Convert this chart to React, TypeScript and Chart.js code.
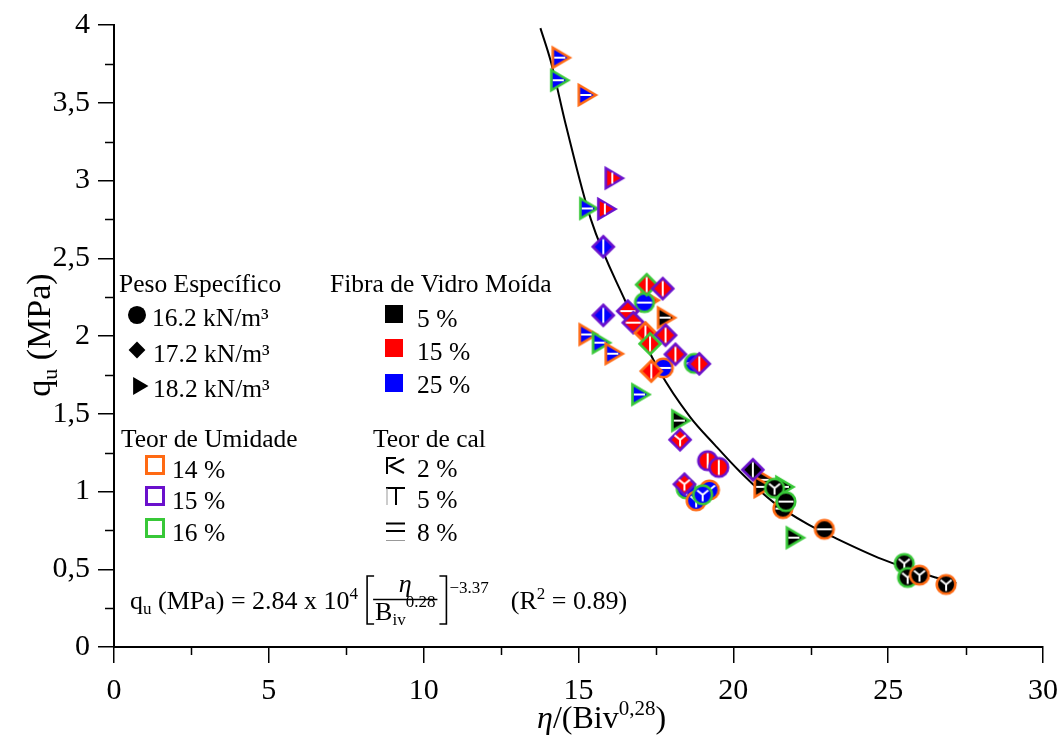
import React, { useEffect, useRef } from 'react';
import { Chart, registerables } from 'chart.js';
Chart.register(...registerables);

const FONT = '"Liberation Serif", "Times New Roman", serif';

// ---- axis ticks ----
const xMajorStep = 5;
const yMajorStep = 0.5;

// ---- data (η/Biv^0.28 , qu) with categories ----
const etaBiv = [
  14.38, 14.33, 15.22, 16.09, 15.27, 15.85, 15.25, 15.68, 16.09, 16.95, 17.78, 18.24, 21.94, 20.95, 20.9, 21.6, 17.25,
  17.13, 18.74, 17.74, 19.17, 19.53, 18.48, 18.8, 19.23, 19.01, 21.33, 21.6, 21.7, 22.94, 25.52, 25.63, 26.01, 26.87,
  15.8, 17.2, 17.72, 15.8, 16.59, 16.77, 17.16, 17.81, 17.31, 18.13, 18.9, 17.35, 18.28, 18.42, 20.63,
];
const qu = [
  3.79, 3.645, 3.55, 3.015, 2.82, 2.817, 2.01, 1.957, 1.886, 1.624, 2.118, 1.456, 0.703, 1.075, 1.03, 1.03, 2.23,
  2.215, 1.824, 1.795, 1.198, 1.155, 1.017, 0.94, 1.01, 0.979, 1.021, 0.89, 0.935, 0.757, 0.537, 0.447, 0.462, 0.402,
  2.574, 2.33, 2.305, 2.133, 2.16, 2.086, 2.02, 2.005, 1.95, 1.882, 1.821, 1.774, 1.333, 1.047, 1.14,
];
// Peso específico (kN/m³): 16.2 circle, 17.2 diamond, 18.2 triangle
const pesoEspecifico = [
  18.2, 18.2, 18.2, 18.2, 18.2, 18.2, 18.2, 18.2, 18.2, 18.2, 18.2, 18.2, 18.2, 18.2, 18.2, 18.2, 18.2,
  16.2, 16.2, 16.2, 16.2, 16.2, 16.2, 16.2, 16.2, 16.2, 16.2, 16.2, 16.2, 16.2, 16.2, 16.2, 16.2, 16.2,
  17.2, 17.2, 17.2, 17.2, 17.2, 17.2, 17.2, 17.2, 17.2, 17.2, 17.2, 17.2, 17.2, 17.2, 17.2,
];
// Fibra de vidro moída (%)
const fibraVidro = [
  25, 25, 25, 15, 25, 15, 25, 25, 25, 25, 5, 5, 5, 5, 5, 5, 15,
  25, 25, 25, 15, 15, 25, 25, 25, 25, 5, 5, 5, 5, 5, 5, 5, 5,
  25, 15, 15, 25, 15, 15, 15, 15, 15, 15, 15, 15, 15, 15, 5,
];
// Teor de umidade (%)
const teorUmidade = [
  14, 16, 14, 15, 16, 15, 14, 16, 14, 16, 14, 16, 16, 14, 14, 16, 14,
  16, 16, 14, 15, 15, 16, 14, 14, 16, 16, 14, 16, 14, 16, 16, 14, 14,
  15, 16, 15, 15, 15, 15, 14, 15, 16, 15, 15, 14, 15, 15, 15,
];
// Teor de cal (%)
const teorCal = [
  8, 8, 8, 5, 8, 5, 8, 8, 8, 8, 8, 8, 8, 8, 8, 8, 8,
  8, 8, 8, 5, 5, 2, 2, 2, 2, 2, 8, 8, 8, 2, 2, 2, 2,
  5, 5, 5, 5, 8, 8, 5, 5, 5, 5, 5, 5, 2, 2, 5,
];

// fitted curve
const curveX = [13.77, 14.1, 14.6, 15.4, 16.5, 17.6, 18.6, 19.4, 20.2, 21.3, 22.4, 23.2, 24.8, 26.4, 27.2];
const curveY = [3.98, 3.77, 3.35, 2.75, 2.23, 1.78, 1.48, 1.30, 1.13, 0.93, 0.79, 0.71, 0.565, 0.455, 0.41];

const fillColor: Record<number, string> = { 5: '#000000', 15: '#FF0000', 25: '#0000FF' };
const borderColor: Record<number, string> = { 14: '#FF6A13', 15: '#6A10CC', 16: '#38C838' };
const shapeOf: Record<number, string> = { 16.2: 'circle', 17.2: 'diamond', 18.2: 'triangle' };

function shapePath(g: CanvasRenderingContext2D, shape: string, s: number) {
  g.beginPath();
  if (shape === 'circle') g.arc(0, 0, 9.3 * s, 0, Math.PI * 2);
  else if (shape === 'diamond') {
    g.moveTo(0, -10.5 * s); g.lineTo(10.5 * s, 0); g.lineTo(0, 10.5 * s); g.lineTo(-10.5 * s, 0); g.closePath();
  } else {
    g.moveTo(10.5 * s, 0); g.lineTo(-6.5 * s, -10 * s); g.lineTo(-6.5 * s, 10 * s); g.closePath();
  }
}

function makeMarker(shape: string, fill: string, stroke: string, cal: number): HTMLCanvasElement {
  const S = 32;
  const c = document.createElement('canvas');
  c.width = S; c.height = S;
  const g = c.getContext('2d')!;
  g.translate(S / 2, S / 2);
  shapePath(g, shape, 1);
  g.fillStyle = fill; g.fill();
  g.lineWidth = 2.6; g.strokeStyle = stroke; g.lineJoin = 'miter'; g.stroke();
  g.strokeStyle = '#ffffff'; g.lineWidth = 2; g.lineCap = 'butt';
  g.beginPath();
  if (cal === 8) {
    const x0 = shape === 'triangle' ? -5 : -7.5;
    const x1 = shape === 'triangle' ? 6 : 7.5;
    g.moveTo(x0, 0); g.lineTo(x1, 0);
  } else if (cal === 5) {
    const h = shape === 'triangle' ? 5.5 : 7.5;
    g.moveTo(0, -h); g.lineTo(0, h);
  } else {
    g.moveTo(0, 0); g.lineTo(0, 6.5);
    g.moveTo(0, 0); g.lineTo(-5.5, -4.5);
    g.moveTo(0, 0); g.lineTo(5.5, -4.5);
  }
  g.stroke();
  return c;
}

function drawRuns(ctx: CanvasRenderingContext2D, x: number, y: number, runs: { t: string; size: number; dy?: number; italic?: boolean; dx?: number }[]) {
  let cx = x;
  for (const r of runs) {
    ctx.font = `${r.italic ? 'italic ' : ''}${r.size}px ${FONT}`;
    cx += r.dx || 0;
    ctx.fillText(r.t, cx, y + (r.dy || 0));
    cx += ctx.measureText(r.t).width;
  }
  return cx;
}

function runsWidth(ctx: CanvasRenderingContext2D, runs: { t: string; size: number; italic?: boolean }[]) {
  let w = 0;
  for (const r of runs) {
    ctx.font = `${r.italic ? 'italic ' : ''}${r.size}px ${FONT}`;
    w += ctx.measureText(r.t).width;
  }
  return w;
}

const overlayPlugin = {
  id: 'overlay',
  afterDraw(chart: any) {
    const ctx: CanvasRenderingContext2D = chart.ctx;
    const xs = chart.scales.x;
    const ys = chart.scales.y;
    const bottom = chart.chartArea.bottom;
    const left = chart.chartArea.left;
    ctx.save();
    // minor ticks
    ctx.strokeStyle = '#000';
    ctx.lineWidth = 1.5;
    ctx.beginPath();
    for (let v = xMajorStep / 2; v < 30; v += xMajorStep) {
      const px = Math.round(xs.getPixelForValue(v)) + 0.5;
      ctx.moveTo(px, bottom); ctx.lineTo(px, bottom + 8);
    }
    for (let v = yMajorStep / 2; v < 4; v += yMajorStep) {
      const py = Math.round(ys.getPixelForValue(v)) + 0.5;
      ctx.moveTo(left, py); ctx.lineTo(left - 9, py);
    }
    ctx.stroke();

    ctx.fillStyle = '#000';
    ctx.textBaseline = 'alphabetic';
    ctx.textAlign = 'left';

    // axis titles
    const yTitle = [{ t: 'q', size: 34 }, { t: 'u', size: 22, dy: 7 }, { t: ' (MPa)', size: 34 }];
    ctx.save();
    ctx.translate(50, 335);
    ctx.rotate(-Math.PI / 2);
    drawRuns(ctx, -runsWidth(ctx, yTitle) / 2, 0, yTitle);
    ctx.restore();

    const xTitle = [
      { t: 'η', size: 32, italic: true }, { t: '/(Biv', size: 32 }, { t: '0,28', size: 21, dy: -13 }, { t: ')', size: 32 },
    ];
    drawRuns(ctx, 537, 728, xTitle);

    // legend: peso específico
    const L = 25.5;
    ctx.font = `${L}px ${FONT}`;
    ctx.fillText('Peso Específico', 119, 292);
    ctx.fillText('16.2 kN/m³', 152, 326);
    ctx.fillText('17.2 kN/m³', 153, 362);
    ctx.fillText('18.2 kN/m³', 153, 397);
    ctx.fillStyle = '#000';
    ctx.save(); ctx.translate(137, 315); shapePath(ctx, 'circle', 0.97); ctx.fill(); ctx.restore();
    ctx.save(); ctx.translate(137, 350); shapePath(ctx, 'diamond', 0.8); ctx.fill(); ctx.restore();
    ctx.save(); ctx.translate(139, 386); shapePath(ctx, 'triangle', 0.9); ctx.fill(); ctx.restore();

    // legend: fibra
    ctx.font = `${L}px ${FONT}`;
    ctx.fillText('Fibra de Vidro Moída', 330, 292);
    ctx.fillText('5 %', 417, 327);
    ctx.fillText('15 %', 417, 360);
    ctx.fillText('25 %', 417, 393);
    ctx.fillStyle = '#000'; ctx.fillRect(385, 305, 18, 18);
    ctx.fillStyle = '#FF0000'; ctx.fillRect(385, 339, 18, 18);
    ctx.fillStyle = '#0000FF'; ctx.fillRect(385, 374, 18, 18);
    ctx.fillStyle = '#000';

    // legend: umidade
    ctx.fillText('Teor de Umidade', 121, 447);
    ctx.fillText('14 %', 172, 478);
    ctx.fillText('15 %', 172, 509);
    ctx.fillText('16 %', 172, 541);
    ctx.lineWidth = 3;
    ctx.strokeStyle = borderColor[14]; ctx.strokeRect(146.5, 456.5, 17, 17);
    ctx.strokeStyle = borderColor[15]; ctx.strokeRect(146.5, 487.5, 17, 17);
    ctx.strokeStyle = borderColor[16]; ctx.strokeRect(146.5, 519.5, 17, 17);

    // legend: cal
    ctx.fillStyle = '#000';
    ctx.fillText('Teor de cal', 373, 447);
    ctx.fillText('2 %', 417, 477);
    ctx.fillText('5 %', 417, 508);
    ctx.fillText('8 %', 417, 541);
    ctx.strokeStyle = '#000'; ctx.lineWidth = 2;
    ctx.beginPath();
    ctx.moveTo(387, 457); ctx.lineTo(387, 474);
    ctx.moveTo(386, 458); ctx.lineTo(396, 458);
    ctx.moveTo(404, 459); ctx.lineTo(390, 466); ctx.lineTo(404, 473);
    ctx.moveTo(386, 488); ctx.lineTo(405, 488);
    ctx.moveTo(396, 488); ctx.lineTo(396, 505);
    ctx.moveTo(386, 523.5); ctx.lineTo(405, 523.5);
    ctx.moveTo(386, 531); ctx.lineTo(405, 531);
    ctx.stroke();
    ctx.strokeStyle = '#999'; ctx.lineWidth = 1;
    ctx.beginPath();
    ctx.moveTo(387, 488); ctx.lineTo(387, 505);
    ctx.moveTo(386, 540.5); ctx.lineTo(405, 540.5);
    ctx.stroke();

    // equation
    ctx.fillStyle = '#000';
    const E = 26;
    const S = 17;
    let ex = drawRuns(ctx, 130, 609, [
      { t: 'q', size: E }, { t: 'u', size: S, dy: 5 }, { t: ' (MPa) = 2.84 x 10', size: E }, { t: '4', size: S, dy: -10 },
    ]);
    ex += 8;
    // left bracket
    ctx.strokeStyle = '#000'; ctx.lineWidth = 1.6;
    ctx.beginPath();
    ctx.moveTo(ex + 8, 576); ctx.lineTo(ex + 1, 576); ctx.lineTo(ex + 1, 624); ctx.lineTo(ex + 8, 624);
    ctx.stroke();
    const fx = ex + 7;
    // denominator
    const den = [{ t: 'B', size: E }, { t: 'iv', size: S }, { t: '0.28', size: S }];
    const fw = runsWidth(ctx, den) + 4;
    drawRuns(ctx, fx + 2, 620, [{ t: 'B', size: E }, { t: 'iv', size: S, dy: 5 }, { t: '0.28', size: S, dy: -13 }]);
    ctx.lineWidth = 1.3;
    ctx.beginPath(); ctx.moveTo(fx, 599.5); ctx.lineTo(fx + fw, 599.5); ctx.stroke();
    ctx.font = `italic ${E}px ${FONT}`;
    const wEta = ctx.measureText('η').width;
    ctx.fillText('η', fx + fw / 2 - wEta / 2, 592);
    const rb = fx + fw + 2;
    ctx.lineWidth = 1.6;
    ctx.beginPath();
    ctx.moveTo(rb, 576); ctx.lineTo(rb + 7, 576); ctx.lineTo(rb + 7, 624); ctx.lineTo(rb, 624);
    ctx.stroke();
    const after = drawRuns(ctx, rb + 10, 593, [{ t: '−3.37', size: S }]);
    drawRuns(ctx, after + 22, 609, [{ t: '(R', size: E }, { t: '2', size: S, dy: -10 }, { t: ' = 0.89)', size: E }]);

    ctx.restore();
  },
};

export default function App() {
  const ref = useRef<HTMLCanvasElement>(null);
  useEffect(() => {
    const canvas = ref.current!;
    const markers = etaBiv.map((_, i) =>
      makeMarker(shapeOf[pesoEspecifico[i]], fillColor[fibraVidro[i]], borderColor[teorUmidade[i]], teorCal[i]),
    );
    const isMajor = (v: number, step: number) => Math.abs(v / step - Math.round(v / step)) < 1e-6;
    const chart = new Chart(canvas, {
      type: 'scatter',
      data: {
        datasets: [
          {
            data: etaBiv.map((x, i) => ({ x, y: qu[i] })),
            pointStyle: markers as any,
            pointRadius: 10,
            pointHoverRadius: 10,
          },
          {
            data: curveX.map((x, i) => ({ x, y: curveY[i] })),
            showLine: true,
            borderColor: '#000',
            borderWidth: 2,
            pointRadius: 0,
            cubicInterpolationMode: 'monotone',
            fill: false,
          } as any,
        ],
      },
      options: {
        animation: false,
        responsive: false,
        devicePixelRatio: 1,
        events: [],
        layout: { padding: { left: 0, top: 25, right: 19, bottom: 0 } },
        plugins: { legend: { display: false }, tooltip: { enabled: false } },
        scales: {
          x: {
            type: 'linear',
            min: 0,
            max: 30,
            afterFit: (s: any) => { s.height = 98; s.paddingRight = 0; s.paddingLeft = 0; },
            ticks: {
              stepSize: xMajorStep / 2,
              autoSkip: false,
              maxRotation: 0,
              padding: 10,
              color: '#000',
              font: { family: FONT, size: 30 },
              callback: (v: any) => (isMajor(Number(v), xMajorStep) ? String(v) : ''),
            },
            grid: {
              drawOnChartArea: false,
              tickLength: 16,
              lineWidth: 1.5,
              color: (c: any) => (c.tick && isMajor(c.tick.value, xMajorStep) ? '#000' : 'rgba(0,0,0,0)'),
            },
            border: { display: true, color: '#000', width: 2 },
          },
          y: {
            type: 'linear',
            min: 0,
            max: 4,
            afterFit: (s: any) => { s.width = 114; s.paddingTop = 0; s.paddingBottom = 0; },
            ticks: {
              stepSize: yMajorStep / 2,
              autoSkip: false,
              padding: 8,
              color: '#000',
              font: { family: FONT, size: 30 },
              callback: (v: any) => (isMajor(Number(v), yMajorStep) ? String(Number(v)).replace('.', ',') : ''),
            },
            grid: {
              drawOnChartArea: false,
              tickLength: 16,
              lineWidth: 1.5,
              color: (c: any) => (c.tick && isMajor(c.tick.value, yMajorStep) ? '#000' : 'rgba(0,0,0,0)'),
            },
            border: { display: true, color: '#000', width: 2 },
          },
        },
      },
      plugins: [overlayPlugin],
    });
    return () => chart.destroy();
  }, []);
  return (
    <div style={{ position: 'fixed', left: 0, top: 0, width: 1062, height: 745, background: '#fff' }}>
      <canvas ref={ref} width={1062} height={745} style={{ width: 1062, height: 745 }} />
    </div>
  );
}
